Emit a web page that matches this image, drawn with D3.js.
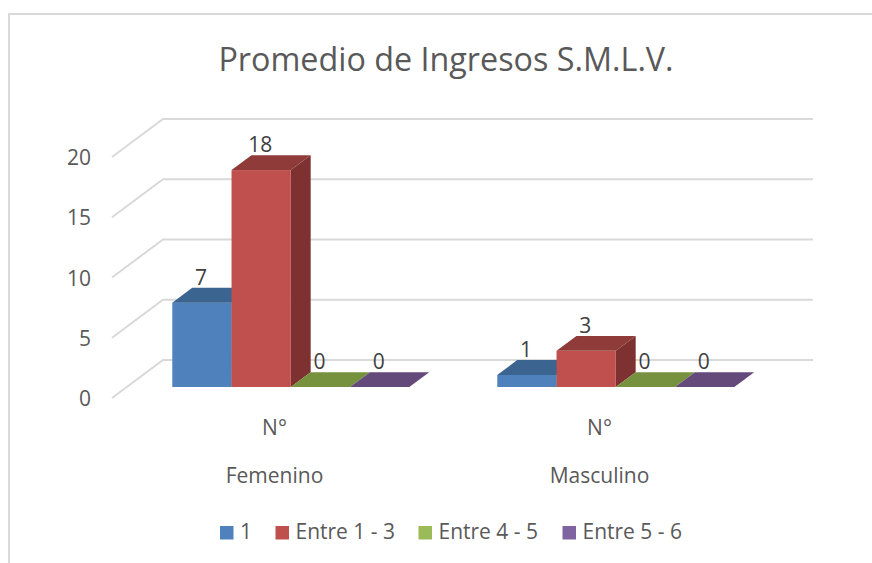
<!DOCTYPE html>
<html>
<head>
<meta charset="utf-8">
<script src="https://cdn.jsdelivr.net/npm/d3@7"></script>
<style>
  html, body { margin: 0; padding: 0; background: #fff; }
  svg { display: block; }
  text { font-family: "Open Sans", sans-serif; fill: #595959; }
</style>
</head>
<body>
<script>
var categories = ["Femenino", "Masculino"];
var subLabel = "N°";
var seriesNames = ["1", "Entre 1 - 3", "Entre 4 - 5", "Entre 5 - 6"];
var femenino = [7, 18, 0, 0];
var masculino = [1, 3, 0, 0];
var yTicks = [0, 5, 10, 15, 20];
var frontColors = ["#4f81bd", "#c0504d", "#9bbb59", "#8064a2"];
var topColors = ["#3c6491", "#8f3b39", "#77923f", "#644a7b"];
var sideColors = ["#305074", "#7d3130", "#5f7532", "#503b62"];

var title = "Promedio de Ingresos S.M.L.V.";
var width = 872, height = 563;

var svg = d3.select("body").append("svg")
  .attr("width", width)
  .attr("height", height);

// chart frame, only top and left edges are in the crop
svg.append("path")
  .attr("d", "M9,563V14H872")
  .attr("fill", "none")
  .attr("stroke", "#d9d9d9")
  .attr("stroke-width", 2);

svg.append("text")
  .attr("x", 446)
  .attr("y", 71)
  .attr("text-anchor", "middle")
  .attr("font-size", 32.3)
  .text(title);

// floor front edge -> back wall is a fixed skew
var depthX = 51, depthY = 38;
var barFront = 0.29, barBack = 0.68;

var y = d3.scaleLinear().domain([0, 20]).range([398, 157]);
var x0 = d3.scaleBand().domain(categories).range([112, 762]);
var x1 = d3.scaleBand().domain(seriesNames).range([45.5, 282.5]);

function px(x, d) { return x + depthX * d; }
function py(v, d) { return y(v) - depthY * d; }

// gridlines: slanted part on the side wall, then flat along the back wall
var grid = svg.append("g").attr("fill", "none").attr("stroke", "#d9d9d9").attr("stroke-width", 2);
yTicks.forEach(function(t) {
  grid.append("path")
    .attr("d", d3.line()([
      [px(x0.range()[0], 0), py(t, 0)],
      [px(x0.range()[0], 1), py(t, 1)],
      [px(x0.range()[1], 1), py(t, 1)]
    ]));
});

var yAxis = svg.append("g")
  .attr("transform", "translate(" + 96 + ",1)")
  .call(d3.axisLeft(y).tickValues(yTicks).tickSize(0).tickPadding(5));
yAxis.select(".domain").remove();
yAxis.selectAll("text").attr("font-size", 21).attr("font-family", null).attr("fill", null);

function drawGroup(cat, values) {
  var g = svg.append("g");
  values.forEach(function(v, i) {
    var name = seriesNames[i];
    var left = x0(cat) + x1(name) + depthX * barFront;
    var w = x1.bandwidth();
    var dx = depthX * (barBack - barFront);
    var dy = depthY * (barBack - barFront);
    var base = py(0, barFront), top = py(v, barFront);

    if (v > 0) {
      g.append("path")
        .attr("d", d3.line()([[left + w, base], [left + w + dx, base - dy], [left + w + dx, top - dy], [left + w, top]]) + "Z")
        .attr("fill", sideColors[i]);
      g.append("rect")
        .attr("x", left).attr("y", top)
        .attr("width", w).attr("height", base - top)
        .attr("fill", frontColors[i]);
    }
    g.append("path")
      .attr("d", d3.line()([[left, top], [left + w, top], [left + w + dx, top - dy], [left + dx, top - dy]]) + "Z")
      .attr("fill", topColors[i]);
  });
  // labels go on top of every bar in the group
  values.forEach(function(v, i) {
    g.append("text")
      .attr("x", x0(cat) + x1(seriesNames[i]) + depthX * barFront + x1.bandwidth() / 2 - 1)
      .attr("y", py(v, barFront) - 18)
      .attr("text-anchor", "middle")
      .attr("font-size", 21)
      .style("fill", "#404040")
      .text(v);
  });
}
drawGroup(categories[0], femenino);
drawGroup(categories[1], masculino);

categories.forEach(function(c) {
  var cx = x0(c) + x0.bandwidth() / 2;
  svg.append("text").attr("x", cx).attr("y", 435)
    .attr("text-anchor", "middle").attr("font-size", 21).text(subLabel);
  svg.append("text").attr("x", cx).attr("y", 483)
    .attr("text-anchor", "middle").attr("font-size", 21).text(c);
});

// legend positions follow the reference, spacing is not even
var legendX = [220, 275.5, 418.5, 562.5];
var legend = svg.append("g");
seriesNames.forEach(function(name, i) {
  legend.append("rect")
    .attr("x", legendX[i]).attr("y", 526)
    .attr("width", 13.5).attr("height", 13.5)
    .attr("fill", frontColors[i]);
  legend.append("text")
    .attr("x", legendX[i] + 20).attr("y", 539)
    .attr("font-size", 21)
    .text(name);
});
</script>
</body>
</html>
